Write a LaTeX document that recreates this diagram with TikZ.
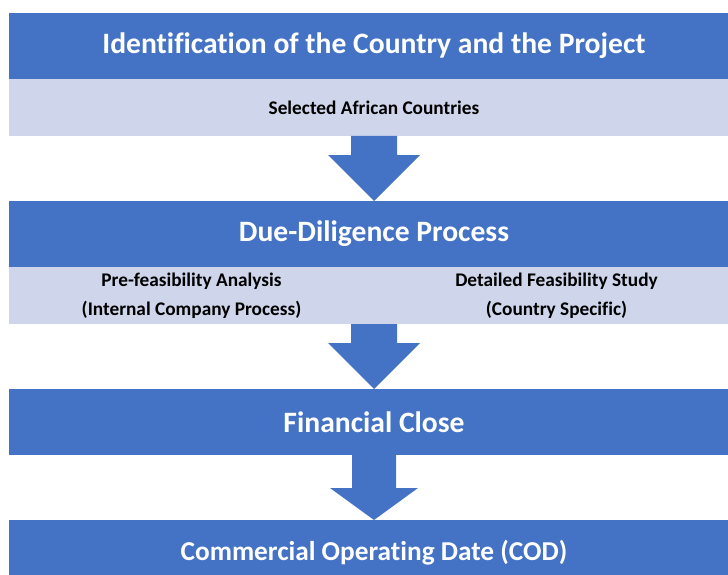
\documentclass[tikz,border=0pt]{standalone}
\usepackage{fontspec}
\setmainfont{Carlito}[Ligatures=NoCommon]
\usepackage{xcolor}
\usetikzlibrary{calc,positioning}

\definecolor{hdrblue}{HTML}{4472C4}
\definecolor{bandblue}{HTML}{CFD5EA}

\tikzset{
    header/.style={fill=hdrblue, text=white, inner sep=0pt, outer sep=0pt,
        minimum width=730pt, minimum height=66pt,
        font=\bfseries\fontsize{29.6}{32}\selectfont},
    band/.style={fill=bandblue, text=black, inner sep=0pt, outer sep=0pt,
        minimum width=730pt, minimum height=57pt, align=center,
        font=\bfseries\fontsize{19.3}{29}\selectfont},
    halfband/.style={band, minimum width=365pt}
}

\begin{document}
\begin{tikzpicture}[x=1pt,y=-1pt]
        \useasboundingbox (0,0) rectangle (728,575);
        \clip (0,0) rectangle (728,575);
        % stages
        \node [header, anchor=north west] (ident) at (9,13) {Identification of the Country and the Project};
        \node [band, below=0pt of ident] (select) {Selected African Countries};
        \node [header, below=65pt of select] (due) {Due-Diligence Process};
        \node [halfband, below right=0pt and 0pt of due.south west] (prefeas) {Pre-feasibility Analysis\\(Internal Company Process)};
        \node [halfband, right=0pt of prefeas] (detail) {Detailed Feasibility Study\\(Country Specific)};
        \node [header, below right=65pt and 0pt of prefeas.south west] (close) {Financial Close};
        \node [header, below=65pt of close, font=\bfseries\fontsize{27.3}{30}\selectfont] (cod) {Commercial Operating Date (COD)};
        % block arrows
        \foreach \a/\b/\s/\w/\h in {select.south/due.north/23/46/46, prefeas.south east/close.north/23/46/46, close.south/cod.north/22/44/32}{
            \fill [hdrblue] ($(\a)+(-\s,0)$) -- ($(\a)+(\s,0)$) -- ($(\b)+(\s,-\h)$) -- ($(\b)+(\w,-\h)$)
                -- (\b) -- ($(\b)+(-\w,-\h)$) -- ($(\b)+(-\s,-\h)$) -- cycle;
        }
    \end{tikzpicture}
\end{document}
